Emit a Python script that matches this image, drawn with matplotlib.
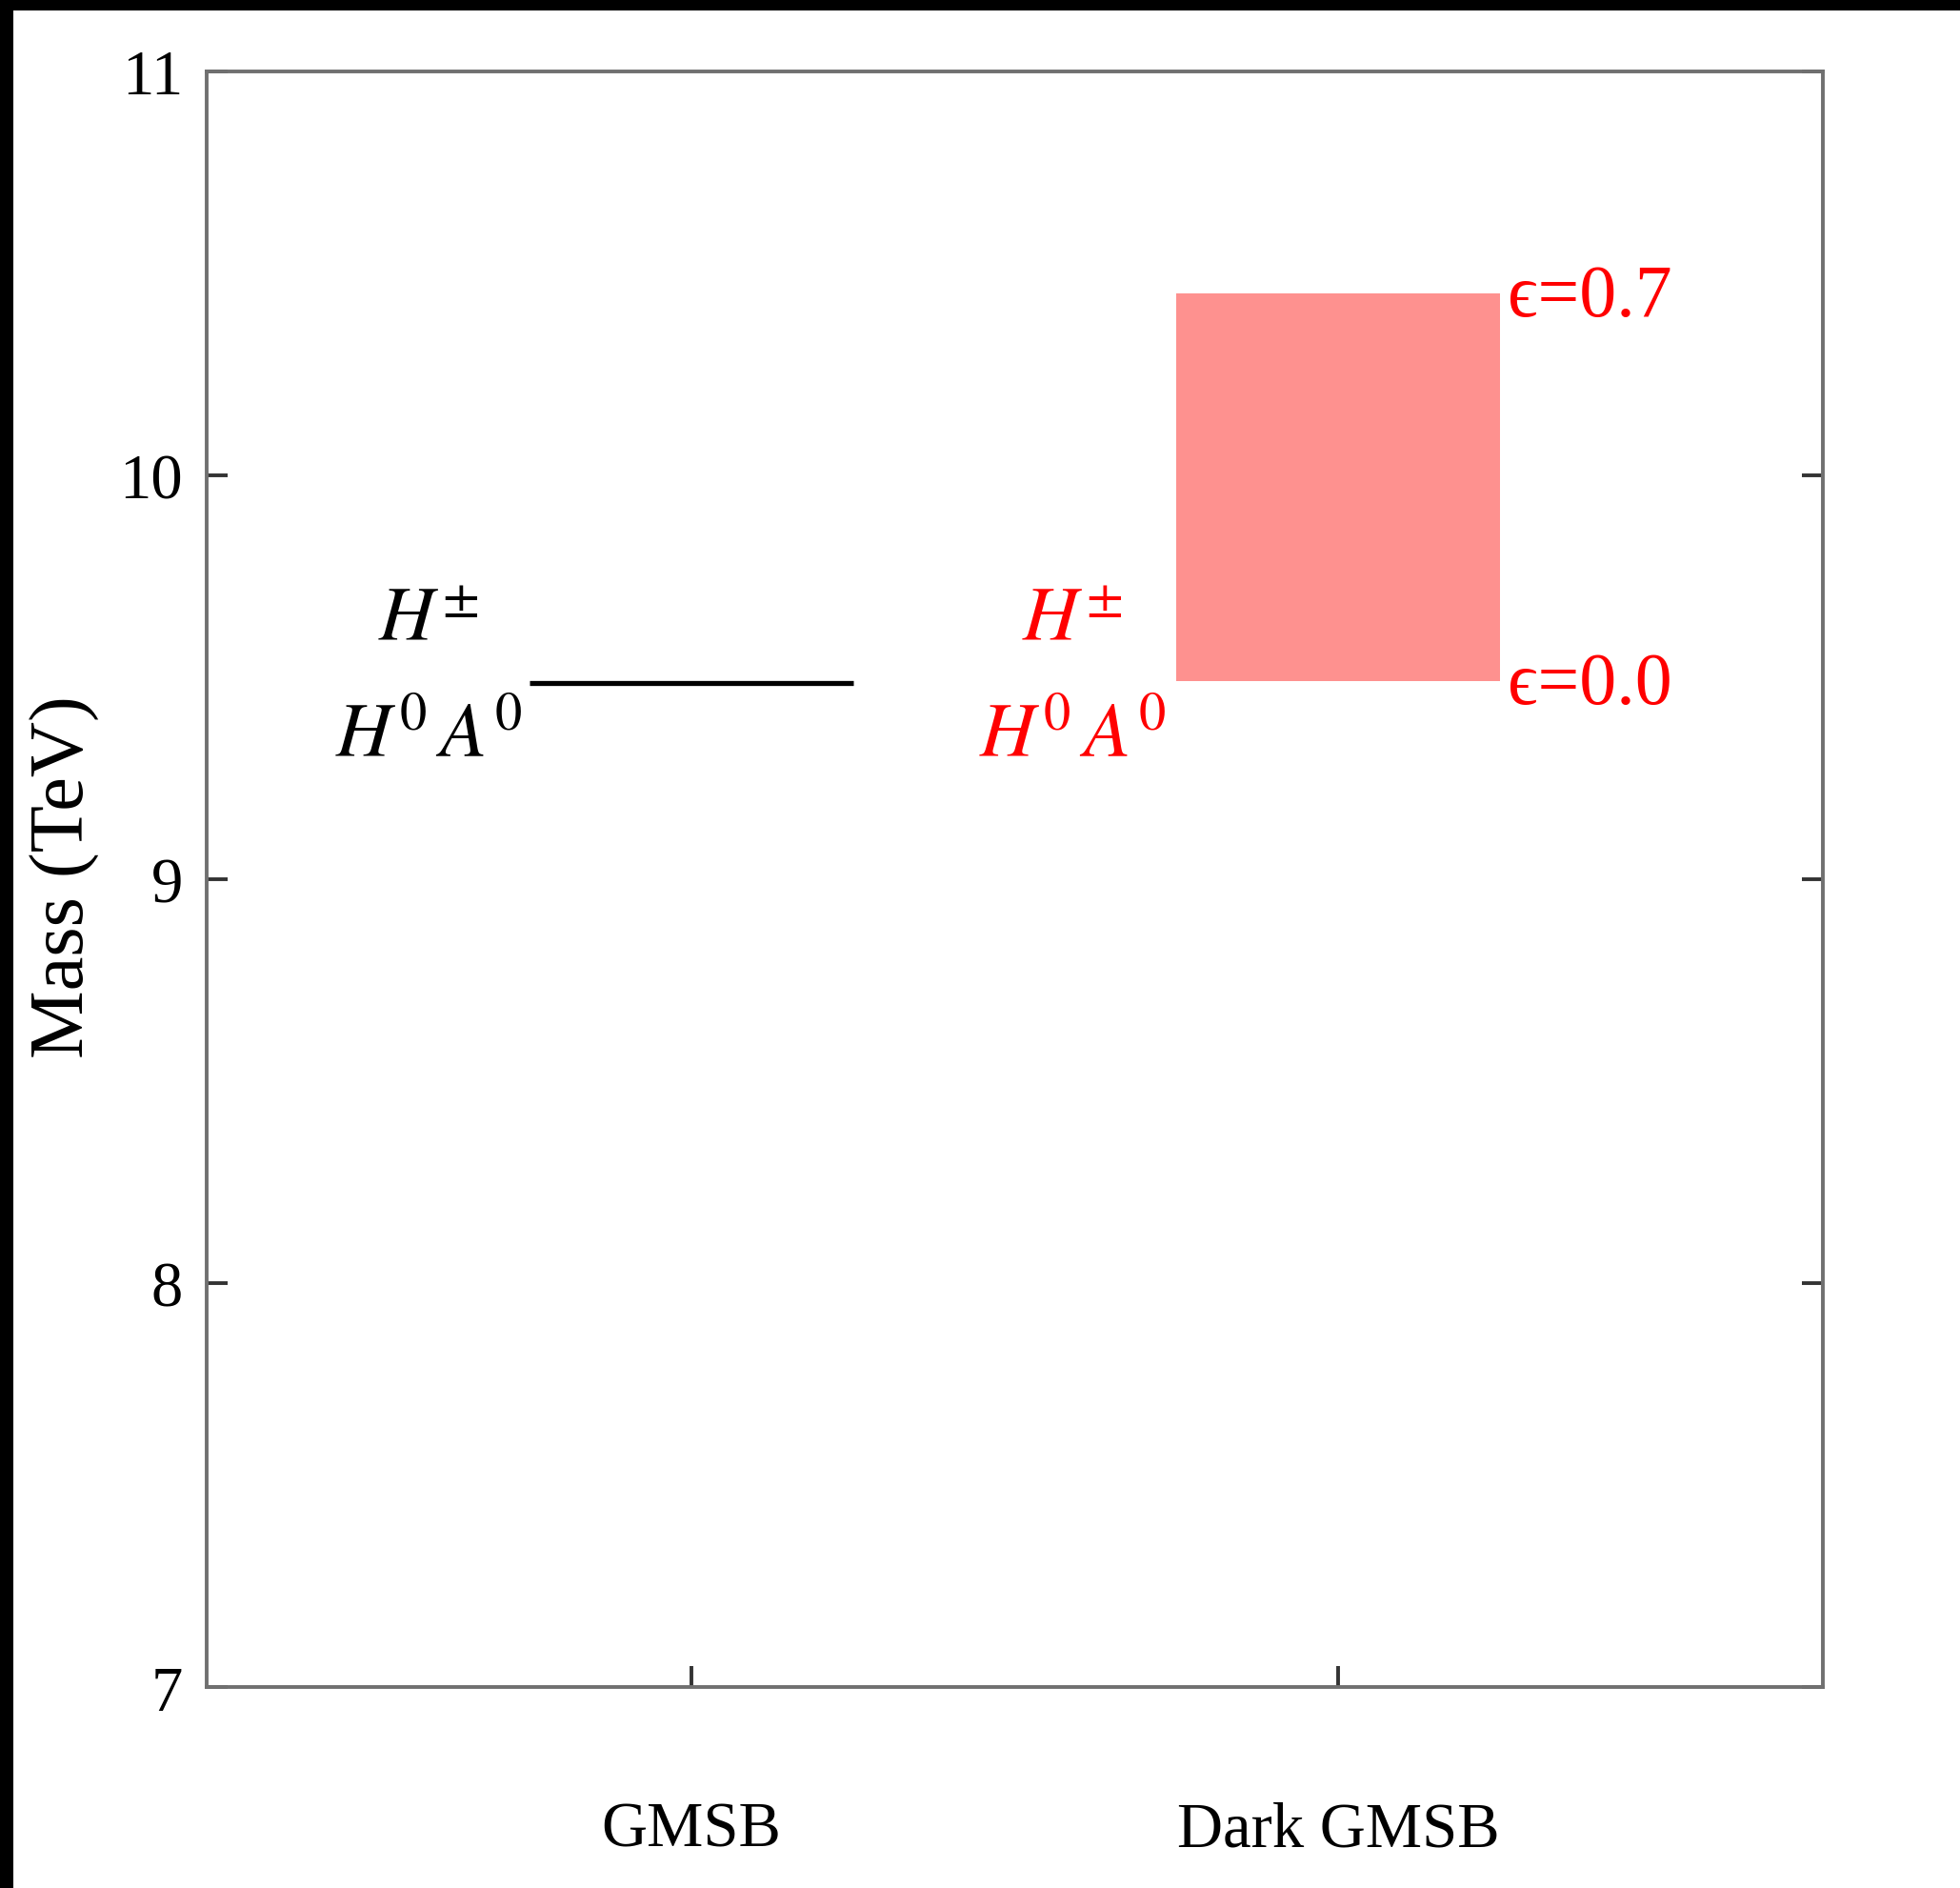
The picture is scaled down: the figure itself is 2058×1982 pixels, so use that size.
import matplotlib
matplotlib.use('Agg')
import matplotlib.pyplot as plt
from matplotlib.patches import Rectangle

##### data
models = ['GMSB', 'Dark GMSB']
model_pos = [1, 2]
half_width = 0.25
# GMSB: degenerate heavy Higgs mass (TeV)
gmsb_mass = 9.485
# Dark GMSB: band between eps=0.0 and eps=0.7 (TeV)
dark_low = 9.49
dark_high = 10.45
eps_labels = ['\u03f5=0.0', '\u03f5=0.7']
higgs_top = r'$H^{\pm}$'
higgs_bot = r'$H^0\,A^0$'

plt.rcParams['font.family'] = ['Liberation Serif', 'DejaVu Serif']
plt.rcParams['mathtext.fontset'] = 'stix'

fig = plt.figure(figsize=(10.29, 9.915), dpi=200)
ax = fig.add_axes([0.1054, 0.1064, 0.8246, 0.8553])

# GMSB line
ax.plot([model_pos[0] - half_width, model_pos[0] + half_width],
        [gmsb_mass, gmsb_mass], color='black', lw=1.9, solid_capstyle='butt')

# Dark GMSB band
ax.add_patch(Rectangle((model_pos[1] - half_width, dark_low), 2 * half_width,
                       dark_high - dark_low, facecolor='#fe918f', edgecolor='none'))

# labels
ax.text(0.593, 9.64, higgs_top, ha='center', va='center', fontsize=29, color='black')
ax.text(0.593, 9.35, higgs_bot, ha='center', va='center', fontsize=29, color='black')
ax.text(1.589, 9.64, higgs_top, ha='center', va='center', fontsize=29, color='red')
ax.text(1.589, 9.35, higgs_bot, ha='center', va='center', fontsize=29, color='red')
ax.text(model_pos[1] + half_width + 0.012, dark_low - 0.01, eps_labels[0],
        ha='left', va='center', fontsize=28, color='red')
ax.text(model_pos[1] + half_width + 0.012, dark_high - 0.01, eps_labels[1],
        ha='left', va='center', fontsize=28, color='red')

ax.set_xlim(0.25, 2.75)
ax.set_ylim(7, 11)
ax.set_yticks([7, 8, 9, 10, 11])
ax.set_xticks(model_pos)
ax.set_xticklabels(models)
ax.tick_params(axis='y', direction='in', length=8, width=1.4, labelsize=24,
               right=True, pad=9, color='#333333')
ax.tick_params(axis='x', direction='in', length=8, width=1.4, labelsize=24,
               pad=43, color='#333333')
for s in ax.spines.values():
    s.set_color('#707070')
    s.set_linewidth(1.4)

ax.set_ylabel('Mass (TeV)', fontsize=29)
ax.yaxis.set_label_coords(-0.066, 0.502)

# dark screenshot frame on left and top
fig.patches.append(Rectangle((0, 0), 0.0068, 1, transform=fig.transFigure,
                             facecolor='black', edgecolor='none'))
fig.patches.append(Rectangle((0, 0.994), 1, 0.006, transform=fig.transFigure,
                             facecolor='black', edgecolor='none'))

fig.savefig('out.png', dpi=200)
